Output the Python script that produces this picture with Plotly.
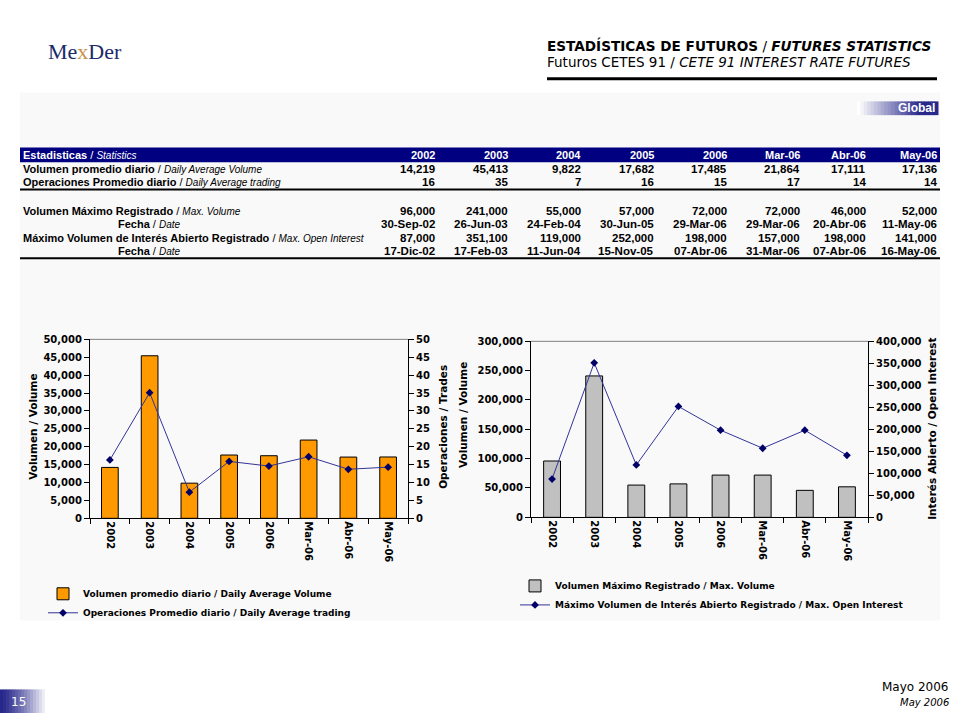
import plotly.graph_objects as go

# ---------------- data ----------------
categories = ["2002", "2003", "2004", "2005", "2006", "Mar-06", "Abr-06", "May-06"]
avg_volume = [14219, 45413, 9822, 17682, 17485, 21864, 17111, 17136]
avg_trades = [16.3, 35.1, 7.3, 15.9, 14.6, 17.2, 13.7, 14.3]          # plotted (unrounded)
avg_trades_table = [16, 35, 7, 16, 15, 17, 14, 14]                     # as shown in table
max_volume = [96000, 241000, 55000, 57000, 72000, 72000, 46000, 52000]
max_volume_dates = ["30-Sep-02", "26-Jun-03", "24-Feb-04", "30-Jun-05",
                    "29-Mar-06", "29-Mar-06", "20-Abr-06", "11-May-06"]
max_oi = [87000, 351100, 119000, 252000, 198000, 157000, 198000, 141000]
max_oi_dates = ["17-Dic-02", "17-Feb-03", "11-Jun-04", "15-Nov-05",
                "07-Abr-06", "31-Mar-06", "07-Abr-06", "16-May-06"]

row_labels = [
    ("Volumen promedio diario", "Daily Average Volume"),
    ("Operaciones Promedio diario", "Daily Average trading"),
    ("Volumen Máximo Registrado", "Max. Volume"),
    ("Fecha", "Date"),
    ("Máximo Volumen de Interés Abierto Registrado", "Max. Open Interest"),
    ("Fecha", "Date"),
]

W, H = 960, 720
NAVY = "#000066"
LINE_BLUE = "#33339a"
ORANGE = "#FF9900"
GREY = "#C0C0C0"


def px(x):
    return x / W


def py(y):
    return 1 - y / H


TICK = dict(family="DejaVu Sans", size=10, color="black", weight="bold")

fig = go.Figure()

# ---------------- charts ----------------
fig.add_trace(go.Bar(
    x=categories, y=avg_volume, xaxis="x", yaxis="y",
    name="Volumen promedio diario / Daily Average Volume",
    marker=dict(color=ORANGE, line=dict(color="black", width=1)),
    width=0.42, legend="legend"))
fig.add_trace(go.Scatter(
    x=categories, y=avg_trades, xaxis="x", yaxis="y2",
    name="Operaciones Promedio diario / Daily Average trading",
    mode="lines+markers", line=dict(color=LINE_BLUE, width=1),
    marker=dict(symbol="diamond", size=6, color=NAVY), legend="legend"))

fig.add_trace(go.Bar(
    x=categories, y=max_volume, xaxis="x2", yaxis="y3",
    name="Volumen Máximo Registrado / Max. Volume",
    marker=dict(color=GREY, line=dict(color="black", width=1)),
    width=0.40, legend="legend2"))
fig.add_trace(go.Scatter(
    x=categories, y=max_oi, xaxis="x2", yaxis="y4",
    name="Máximo Volumen de Interés Abierto Registrado / Max. Open Interest",
    mode="lines+markers", line=dict(color=LINE_BLUE, width=1),
    marker=dict(symbol="diamond", size=6, color=NAVY), legend="legend2"))

common_x = dict(type="category", tickangle=90, ticks="outside", tickson="boundaries",
                ticklen=5, tickcolor="black", showline=True, linecolor="black",
                linewidth=1, showgrid=False, tickfont=TICK, fixedrange=True)
common_y = dict(ticks="outside", ticklen=5, tickcolor="black", showline=True,
                linecolor="black", linewidth=1, showgrid=False, zeroline=False,
                tickfont=TICK, tickformat=",", fixedrange=True)

fig.update_layout(
    xaxis=dict(domain=[px(90), px(408)], anchor="y", **common_x),
    yaxis=dict(domain=[py(521), py(339)], anchor="x", range=[0, 50000], dtick=5000, **common_y),
    yaxis2=dict(overlaying="y", side="right", anchor="x", range=[0, 50], dtick=5, **common_y),
    xaxis2=dict(domain=[px(531), px(868)], anchor="y3", **common_x),
    yaxis3=dict(domain=[py(520), py(341)], anchor="x2", range=[0, 300000], dtick=50000, **common_y),
    yaxis4=dict(overlaying="y3", side="right", anchor="x2", range=[0, 400000], dtick=50000, **common_y),
)

LEG_FONT = dict(family="DejaVu Sans", size=9, color="black", weight="bold")
fig.update_layout(
    showlegend=True,
    legend=dict(x=px(43), y=py(583), xanchor="left", yanchor="top", font=LEG_FONT,
                bgcolor="rgba(0,0,0,0)", borderwidth=0, tracegroupgap=0, itemwidth=30),
    legend2=dict(x=px(515), y=py(575), xanchor="left", yanchor="top", font=LEG_FONT,
                 bgcolor="rgba(0,0,0,0)", borderwidth=0, tracegroupgap=0, itemwidth=30),
)

shapes = []
annotations = []


def ann(x, y, text, size=11, color="black", xanchor="left", yanchor="middle",
        family="Liberation Sans", angle=0, weight="normal"):
    annotations.append(dict(
        x=px(x), y=py(y), xref="paper", yref="paper", text=text, showarrow=False,
        xanchor=xanchor, yanchor=yanchor, textangle=angle,
        font=dict(family=family, size=size, color=color, weight=weight)))


def rect(x0, y0, x1, y1, fill, layer="below"):
    shapes.append(dict(type="rect", xref="paper", yref="paper",
                       x0=px(x0), x1=px(x1), y0=py(y1), y1=py(y0),
                       fillcolor=fill, line=dict(width=0), layer=layer))


def hline(x0, x1, y, width, color="black"):
    shapes.append(dict(type="line", xref="paper", yref="paper",
                       x0=px(x0), x1=px(x1), y0=py(y), y1=py(y),
                       line=dict(color=color, width=width)))


def mix(c0, c1, t):
    return "rgb(%d,%d,%d)" % tuple(round(a + (b - a) * t) for a, b in zip(c0, c1))


# background panel
rect(20, 88, 940, 625, "#f9f9f9")

# top grey frame lines of the plot areas
for xr, yr in (("x domain", "y domain"), ("x2 domain", "y3 domain")):
    shapes.append(dict(type="line", xref=xr, yref=yr, x0=0, x1=1, y0=1, y1=1,
                       line=dict(color="#808080", width=1)))

# ---------------- header ----------------
ann(46, 46, "Me<span style='color:#C8924A'>x</span>Der", size=22,
    color="#1a2a6a", family="Liberation Serif")
ann(545, 40, "<b>ESTADÍSTICAS DE FUTUROS</b> / <b><i>FUTURES STATISTICS</i></b>",
    size=13.6, family="DejaVu Sans")
ann(545, 57, "Futuros CETES 91 / <i>CETE 91 INTEREST RATE FUTURES</i>",
    size=13.5, family="DejaVu Sans")
hline(547, 937, 74, 3)

# "Global" tab with gradient
n = 24
for i in range(n):
    x0 = 857 + (938 - 857) * i / n
    x1 = 857 + (938 - 857) * (i + 1) / n + 0.5
    rect(x0, 97, x1, 111, mix((255, 255, 255), (40, 40, 140), min(1, i / (n * 0.75))), layer="above")
ann(937, 104, "<b>Global</b>", size=12, color="white", xanchor="right")

# ---------------- table ----------------
col_right = [436, 509, 582, 655, 728, 801, 867, 938]
row_y = [165.5, 179, 208, 221.7, 235.5, 249]
rect(20, 144, 940, 159, "#000080")
ann(21, 151.5, "<b>Estadisticas</b> / <i><span style='font-size:10px'>Statistics</span></i>",
    size=11, color="white")
for xr, c in zip(col_right, categories):
    ann(xr + 1, 151.5, "<b>%s</b>" % c, size=11, color="white", xanchor="right")

for k, (es, en) in enumerate(row_labels):
    x0 = 116 if es == "Fecha" else 21
    ann(x0, row_y[k], "<b>%s</b> / <i><span style='font-size:10px'>%s</span></i>" % (es, en),
        size=11)

table_rows = [
    ["{:,}".format(v) for v in avg_volume],
    [str(v) for v in avg_trades_table],
    ["{:,}".format(v) for v in max_volume],
    max_volume_dates,
    ["{:,}".format(v) for v in max_oi],
    max_oi_dates,
]
for k, vals in enumerate(table_rows):
    for xr, v in zip(col_right, vals):
        ann(xr + 1, row_y[k], "<b>%s</b>" % v, size=11.5, xanchor="right")

hline(20, 940, 186.5, 2)
hline(20, 940, 256.5, 2)

# ---------------- axis titles ----------------
ttl = dict(size=10.5, family="DejaVu Sans", weight="bold", xanchor="center", angle=-90)
ann(33, 428, "Volumen / Volume", **ttl)
ann(443, 428, "Operaciones / Trades", **ttl)
ann(463, 416, "Volumen / Volume", **ttl)
ann(932, 430, "Interés Abierto / Open Interest", **ttl)

# ---------------- footer ----------------
n = 16
for i in range(n):
    x0 = 0 + 48 * i / n
    x1 = 48 * (i + 1) / n + 0.5
    rect(x0, 695, x1, 719, mix((40, 40, 140), (255, 255, 255), (i / (n - 1)) ** 1.3), layer="above")
ann(18, 708, "15", size=12, color="white", xanchor="center", family="DejaVu Sans")
ann(951, 693, "Mayo 2006", size=12, xanchor="right", family="DejaVu Sans")
ann(951, 708, "<i>May 2006</i>", size=10, xanchor="right", family="DejaVu Sans")

fig.update_layout(
    width=W, height=H, autosize=False,
    margin=dict(l=0, r=0, t=0, b=0),
    paper_bgcolor="white", plot_bgcolor="rgba(0,0,0,0)",
    shapes=shapes, annotations=annotations,
    font=dict(family="DejaVu Sans", color="black"),
    bargap=0.5,
)

fig.write_html("out.html", config={"displayModeBar": False},
               post_script="document.body.style.margin='0';document.body.style.overflow='hidden';")
